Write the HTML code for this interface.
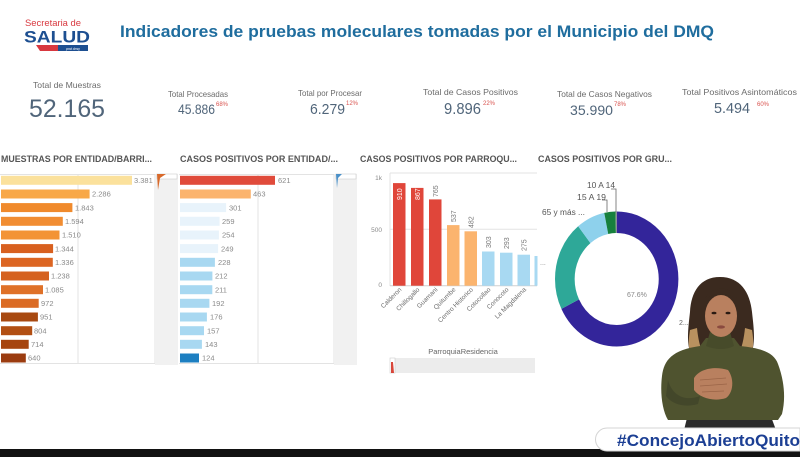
<!DOCTYPE html>
<html><head><meta charset="utf-8"><style>
html,body{margin:0;padding:0;background:#fff;}
svg{display:block;font-family:"Liberation Sans",sans-serif;}
</style></head><body>
<svg width="800" height="457" viewBox="0 0 800 457" xmlns="http://www.w3.org/2000/svg">
<rect width="800" height="457" fill="#fff"/>

<!-- Logo -->
<text x="25" y="26" font-size="9.5" fill="#d8383f" textLength="56" lengthAdjust="spacingAndGlyphs">Secretaria de</text>
<text x="24" y="42.5" font-size="17" font-weight="bold" fill="#1d4f91" textLength="66" lengthAdjust="spacingAndGlyphs">SALUD</text>
<polygon points="36,45 66,45 63,51 40,51" fill="#d8383f"/>
<rect x="58" y="45" width="30" height="6" fill="#1d4f91"/>
<text x="66" y="50" font-size="3.5" fill="#fff" font-style="italic">pnd dmq</text>

<!-- Title -->
<text x="120" y="37" font-size="17" font-weight="bold" fill="#1f6d9e" textLength="594" lengthAdjust="spacingAndGlyphs">Indicadores de pruebas moleculares tomadas por el Municipio del DMQ</text>

<!-- KPIs -->
<g fill="#6b6b6b" font-size="8.5">
<text x="33" y="88" textLength="68" lengthAdjust="spacingAndGlyphs">Total de Muestras</text>
<text x="168" y="97" textLength="60" lengthAdjust="spacingAndGlyphs">Total Procesadas</text>
<text x="298" y="96" textLength="64" lengthAdjust="spacingAndGlyphs">Total por Procesar</text>
<text x="423" y="95" textLength="95" lengthAdjust="spacingAndGlyphs">Total de Casos Positivos</text>
<text x="557" y="97" textLength="95" lengthAdjust="spacingAndGlyphs">Total de Casos Negativos</text>
<text x="682" y="95" textLength="115" lengthAdjust="spacingAndGlyphs">Total Positivos Asintomáticos</text>
</g>
<g fill="#50657a">
<text x="29" y="117" font-size="25" textLength="76" lengthAdjust="spacingAndGlyphs">52.165</text>
<text x="178" y="114" font-size="14" textLength="37" lengthAdjust="spacingAndGlyphs">45.886</text>
<text x="310" y="114" font-size="15" textLength="35" lengthAdjust="spacingAndGlyphs">6.279</text>
<text x="444" y="114" font-size="16" textLength="37" lengthAdjust="spacingAndGlyphs">9.896</text>
<text x="570" y="115" font-size="14" textLength="43" lengthAdjust="spacingAndGlyphs">35.990</text>
<text x="714" y="113" font-size="15" textLength="36" lengthAdjust="spacingAndGlyphs">5.494</text>
</g>
<g fill="#d9534f" font-size="6">
<text x="216" y="106">68%</text>
<text x="346" y="105">12%</text>
<text x="483" y="105">22%</text>
<text x="614" y="106">78%</text>
<text x="757" y="106">60%</text>
</g>

<!-- Chart titles -->
<g fill="#555" font-size="9" font-weight="bold">
<text x="1" y="162" textLength="151" lengthAdjust="spacingAndGlyphs">MUESTRAS POR ENTIDAD/BARRI...</text>
<text x="180" y="162" textLength="158" lengthAdjust="spacingAndGlyphs">CASOS POSITIVOS POR ENTIDAD/...</text>
<text x="360" y="162" textLength="157" lengthAdjust="spacingAndGlyphs">CASOS POSITIVOS POR PARROQU...</text>
<text x="538" y="162" textLength="134" lengthAdjust="spacingAndGlyphs">CASOS POSITIVOS POR GRU...</text>
</g>

<!-- Chart 1 -->
<g stroke="#e3e3e3" stroke-width="1">
<line x1="0" y1="174.5" x2="155" y2="174.5"/>
<line x1="78" y1="174" x2="78" y2="364"/>
<line x1="155" y1="174" x2="155" y2="364"/>
<line x1="0" y1="363.5" x2="155" y2="363.5"/>
</g>
<rect x="155" y="174" width="23" height="191" fill="#f1f1f1"/>
<rect x="157" y="174" width="20" height="5" fill="#fff" stroke="#ccc" stroke-width="0.6"/>
<path d="M157,174 L166,174 L160,178 L158,190 Z" fill="#d8692a"/>
<g>
<rect x="1" y="175.8" width="131" height="9" fill="#fbe19c"/>
<rect x="1" y="189.5" width="88.6" height="9" fill="#f8a848"/>
<rect x="1" y="203.1" width="71.4" height="9" fill="#f08a2c"/>
<rect x="1" y="216.8" width="61.8" height="9" fill="#f18d32"/>
<rect x="1" y="230.5" width="58.5" height="9" fill="#f39435"/>
<rect x="1" y="244.1" width="52.1" height="9" fill="#d8601f"/>
<rect x="1" y="257.8" width="51.8" height="9" fill="#dc6522"/>
<rect x="1" y="271.5" width="48" height="9" fill="#d5611f"/>
<rect x="1" y="285.2" width="42" height="9" fill="#df7128"/>
<rect x="1" y="298.8" width="37.7" height="9" fill="#db6b24"/>
<rect x="1" y="312.5" width="36.9" height="9" fill="#a84911"/>
<rect x="1" y="326.2" width="31.2" height="9" fill="#b24f13"/>
<rect x="1" y="339.8" width="27.7" height="9" fill="#a6450f"/>
<rect x="1" y="353.5" width="24.8" height="9" fill="#9b3c10"/>
</g>
<g fill="#8a8a8a" font-size="7.5">
<text x="134" y="183">3.381</text>
<text x="92" y="196.7">2.286</text>
<text x="75" y="210.3">1.843</text>
<text x="65" y="224">1.594</text>
<text x="62" y="237.7">1.510</text>
<text x="55" y="251.3">1.344</text>
<text x="55" y="265">1.336</text>
<text x="51" y="278.7">1.238</text>
<text x="45" y="292.4">1.085</text>
<text x="41" y="306">972</text>
<text x="40" y="319.7">951</text>
<text x="34" y="333.4">804</text>
<text x="31" y="347">714</text>
<text x="28" y="360.7">640</text>
</g>

<!-- Chart 2 -->
<g stroke="#e3e3e3" stroke-width="1">
<line x1="179" y1="174.5" x2="334" y2="174.5"/>
<line x1="258" y1="174" x2="258" y2="364"/>
<line x1="334" y1="174" x2="334" y2="364"/>
<line x1="179" y1="363.5" x2="334" y2="363.5"/>
</g>
<rect x="334" y="174" width="23" height="191" fill="#f1f1f1"/>
<rect x="336" y="174" width="20" height="5" fill="#fff" stroke="#ccc" stroke-width="0.6"/>
<path d="M336,174 L342,174 L338,178 L337,188 Z" fill="#4a90c8"/>
<g>
<rect x="180" y="175.8" width="95" height="9" fill="#e04b3b"/>
<rect x="180" y="189.5" width="70.8" height="9" fill="#fbb46e"/>
<rect x="180" y="203.1" width="46.1" height="9" fill="#e8f3fb"/>
<rect x="180" y="216.8" width="39.6" height="9" fill="#e8f3fb"/>
<rect x="180" y="230.5" width="38.9" height="9" fill="#e8f3fb"/>
<rect x="180" y="244.1" width="38.1" height="9" fill="#e8f3fb"/>
<rect x="180" y="257.8" width="34.9" height="9" fill="#a8d8f1"/>
<rect x="180" y="271.5" width="32.4" height="9" fill="#a8d8f1"/>
<rect x="180" y="285.2" width="32.3" height="9" fill="#a8d8f1"/>
<rect x="180" y="298.8" width="29.4" height="9" fill="#a8d8f1"/>
<rect x="180" y="312.5" width="26.9" height="9" fill="#a8d8f1"/>
<rect x="180" y="326.2" width="24" height="9" fill="#a8d8f1"/>
<rect x="180" y="339.8" width="21.9" height="9" fill="#a8d8f1"/>
<rect x="180" y="353.5" width="19" height="9" fill="#1d7fc1"/>
</g>
<g fill="#8a8a8a" font-size="7.5">
<text x="278" y="183">621</text>
<text x="253" y="196.7">463</text>
<text x="229" y="210.3">301</text>
<text x="222" y="224">259</text>
<text x="222" y="237.7">254</text>
<text x="221" y="251.3">249</text>
<text x="218" y="265">228</text>
<text x="215" y="278.7">212</text>
<text x="215" y="292.4">211</text>
<text x="212" y="306">192</text>
<text x="210" y="319.7">176</text>
<text x="207" y="333.4">157</text>
<text x="205" y="347">143</text>
<text x="202" y="360.7">124</text>
</g>

<!-- Chart 3 -->
<g stroke="#e3e3e3" stroke-width="1">
<line x1="390" y1="173" x2="537" y2="173"/>
<line x1="390" y1="229.3" x2="537" y2="229.3"/>
<line x1="390" y1="173" x2="390" y2="286"/>
</g>
<line x1="390" y1="285.7" x2="537" y2="285.7" stroke="#cfcfcf" stroke-width="1"/>
<g fill="#8a8a8a" font-size="6.5" text-anchor="end">
<text x="382" y="180">1k</text>
<text x="382" y="232">500</text>
<text x="382" y="287">0</text>
</g>
<g>
<rect x="393" y="183.1" width="12.5" height="102.6" fill="#e0463a"/>
<rect x="411" y="187.9" width="12.5" height="97.8" fill="#e0463a"/>
<rect x="429" y="199.4" width="12.5" height="86.3" fill="#e0463a"/>
<rect x="447" y="225.1" width="12.5" height="60.6" fill="#fbb46e"/>
<rect x="464.5" y="231.3" width="12.5" height="54.4" fill="#fbb46e"/>
<rect x="482" y="251.5" width="12.5" height="34.2" fill="#a8d9f2"/>
<rect x="500" y="252.7" width="12.5" height="33" fill="#a8d9f2"/>
<rect x="517.5" y="254.7" width="12.5" height="31" fill="#a8d9f2"/>
<rect x="534.5" y="256" width="3" height="29.7" fill="#a8d9f2"/>
</g>
<g font-size="7" fill="#fff">
<text transform="translate(402,200) rotate(-90)">910</text>
<text transform="translate(420,200) rotate(-90)">867</text>
</g>
<g font-size="7" fill="#777">
<text transform="translate(438,197) rotate(-90)">765</text>
<text transform="translate(456,222) rotate(-90)">537</text>
<text transform="translate(473.5,228) rotate(-90)">482</text>
<text transform="translate(491,248) rotate(-90)">303</text>
<text transform="translate(509,249) rotate(-90)">293</text>
<text transform="translate(526.5,251) rotate(-90)">275</text>
</g>
<g font-size="6.5" fill="#6f6f6f" text-anchor="end">
<text transform="translate(402,290) rotate(-45)">Calderon</text>
<text transform="translate(420,290) rotate(-45)">Chillogallo</text>
<text transform="translate(438,290) rotate(-45)">Guamani</text>
<text transform="translate(456,290) rotate(-45)">Quitumbe</text>
<text transform="translate(473.5,290) rotate(-45)">Centro Historico</text>
<text transform="translate(491,290) rotate(-45)">Cotocollao</text>
<text transform="translate(509,290) rotate(-45)">Conocoto</text>
<text transform="translate(526.5,290) rotate(-45)">La Magdalena</text>
</g>
<text x="540" y="265" font-size="7" fill="#888">...</text>
<text x="463" y="354" font-size="7.5" fill="#666" text-anchor="middle">ParroquiaResidencia</text>
<rect x="390" y="358" width="145" height="15" fill="#ececec"/>
<rect x="390" y="358" width="5" height="15" fill="#fff" stroke="#ccc" stroke-width="0.6"/>
<path d="M391,362 L393,362 L394,373 L391,373 Z" fill="#d8463a"/>

<!-- Chart 4 donut -->
<g transform="translate(616.7,279) scale(0.914,1) rotate(-90)" fill="none" stroke-width="21.5">
<circle r="56.75" stroke="#33259a" stroke-dasharray="241.1 115.47" stroke-dashoffset="0"/>
<circle r="56.75" stroke="#2ea898" stroke-dasharray="76.86 279.71" stroke-dashoffset="-241.1"/>
<circle r="56.75" stroke="#8ed1ec" stroke-dasharray="26.74 329.83" stroke-dashoffset="-317.96"/>
<circle r="56.75" stroke="#17803d" stroke-dasharray="10.4 346.17" stroke-dashoffset="-344.7"/>
<circle r="56.75" stroke="#8a9a8a" stroke-dasharray="1.47 355.1" stroke-dashoffset="-355.1"/>
</g>
<g stroke="#666" stroke-width="0.8" fill="none">
<polyline points="611,189 616,189 616,212"/>
<polyline points="602,200 607,200 607,212"/>
</g>
<g font-size="8" fill="#555">
<text x="587" y="188" textLength="28" lengthAdjust="spacingAndGlyphs">10 A 14</text>
<text x="577" y="200" textLength="29" lengthAdjust="spacingAndGlyphs">15 A 19</text>
<text x="542" y="215" textLength="43" lengthAdjust="spacingAndGlyphs">65 y más ...</text>
</g>
<text x="627" y="297" font-size="7" fill="#888">67.6%</text>
<text x="679" y="325" font-size="7" fill="#666">2...</text>

<!-- Interpreter -->
<g>
<path d="M684,430 L688,414 L770,414 L776,430 Z" fill="#2b2b2b"/>
<path d="M720,277 C700,277 691,292 690,312 C688,330 686,345 692,356 L750,356 C756,345 754,330 752,312 C750,292 740,277 720,277 Z" fill="#3b2a1f"/>
<path d="M690,330 C688,342 688,352 694,358 L704,356 C700,348 698,338 697,328 Z" fill="#b8915f"/>
<path d="M752,330 C754,342 754,352 748,358 L738,356 C742,348 744,338 745,328 Z" fill="#b8915f"/>
<path d="M706,338 L734,338 L740,346 C760,348 774,352 778,364 C784,380 786,398 782,414 L778,420 L668,420 C662,410 660,392 662,376 C664,360 672,350 700,346 Z" fill="#4f532f"/>
<path d="M710,332 L730,332 L734,346 C726,350 716,350 706,346 Z" fill="#474b2a"/>
<ellipse cx="721" cy="316" rx="16" ry="21" fill="#b9805f"/>
<path d="M705,300 C708,286 734,284 737,300 C730,292 712,292 705,300 Z" fill="#3b2a1f"/>
<ellipse cx="714" cy="313" rx="2.5" ry="1.3" fill="#2a1a12"/>
<ellipse cx="728" cy="313" rx="2.5" ry="1.3" fill="#2a1a12"/>
<ellipse cx="721" cy="327" rx="4" ry="1.6" fill="#8a4a3f"/>
<path d="M668,380 C672,395 684,402 700,396 L698,404 C684,408 672,404 666,396 Z" fill="#43472a"/>
<path d="M694,378 C700,368 716,366 728,370 C734,378 734,392 726,398 C714,402 700,398 694,390 Z" fill="#b9805f"/>
<path d="M700,380 L726,378 M700,386 L727,384 M702,392 L724,391" stroke="#9a6447" stroke-width="0.8" fill="none"/>
</g>

<!-- Bottom strip and hashtag -->
<rect x="0" y="449" width="800" height="8" fill="#121212"/>
<path d="M607,428 L800,428 L800,451 L607,451 A11.5,11.5 0 0 1 607,428 Z" fill="#fff" stroke="#d4d4d4" stroke-width="1"/>
<text x="617" y="446" font-size="17" font-weight="bold" fill="#1c3f94" textLength="183" lengthAdjust="spacingAndGlyphs">#ConcejoAbiertoQuito</text>
</svg>
</body></html>
